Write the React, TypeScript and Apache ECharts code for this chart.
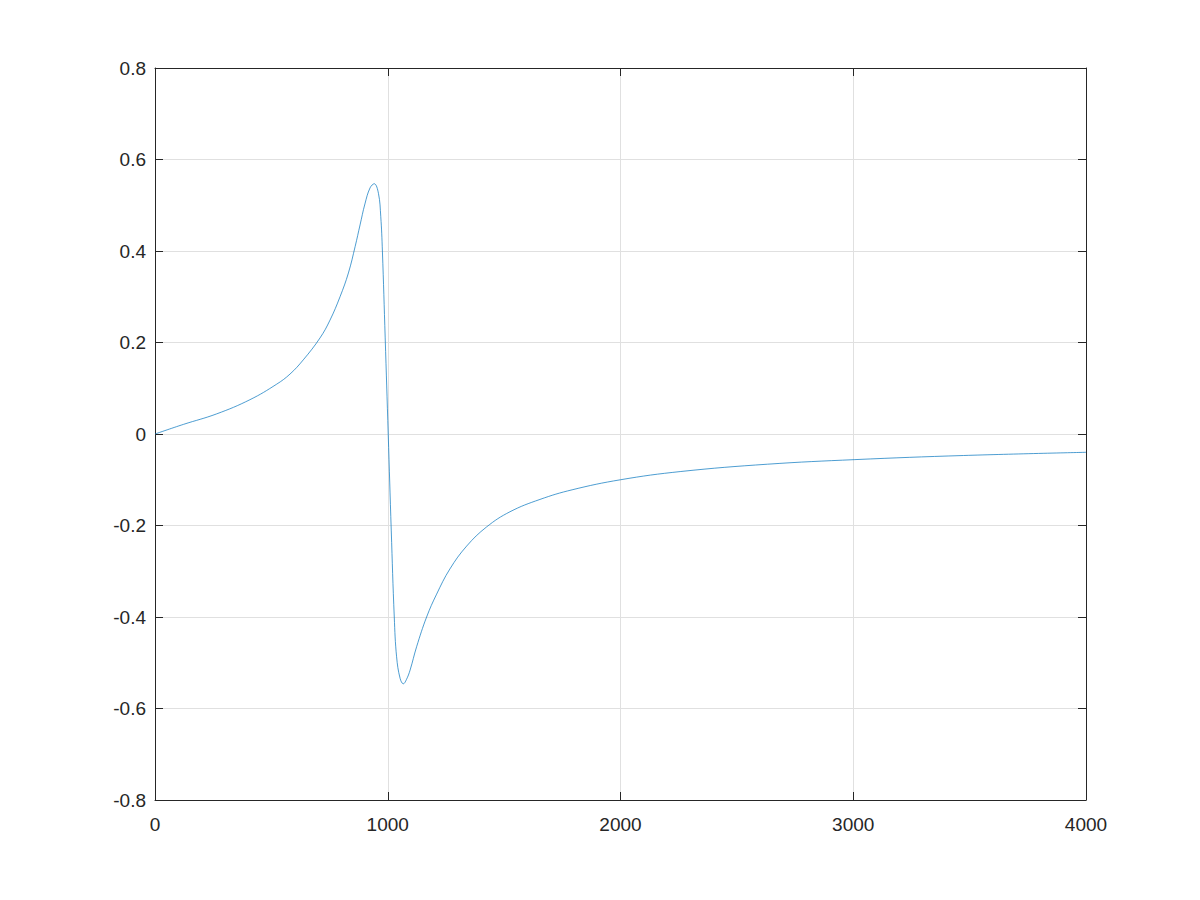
import React, { useEffect, useRef } from "react";
import * as echarts from "echarts";

const xValues = [
  0, 122, 265, 408, 523, 580, 637, 709, 752, 795, 831, 860, 881, 902, 924, 942,
  960, 970, 977, 989, 1002, 1015, 1028, 1038, 1053, 1067, 1080, 1096, 1124, 1167,
  1210, 1267, 1339, 1425, 1525, 1654, 1792, 2000, 2259, 2632, 3007, 3474, 4000,
];
const yValues = [
  0, 0.021, 0.044, 0.075, 0.109, 0.131, 0.162, 0.21, 0.249, 0.3, 0.352, 0.41,
  0.457, 0.503, 0.538, 0.547, 0.526, 0.475, 0.4, 0.21, 0.0, -0.21, -0.4, -0.487,
  -0.534, -0.546, -0.537, -0.516, -0.465, -0.4, -0.35, -0.295, -0.245, -0.203,
  -0.17, -0.143, -0.122, -0.1, -0.082, -0.066, -0.056, -0.047, -0.04,
];

const axisColor = "#262626";
const gridColor = "#e0e0e0";
const font = "Liberation Sans, Arial, Helvetica, sans-serif";

export default function App() {
  const ref = useRef<HTMLDivElement>(null);
  useEffect(() => {
    if (!ref.current) return;
    const chart = echarts.init(ref.current, null, { renderer: "svg" });
    const data = xValues.map((x, i) => [x, yValues[i]]);
    const common = {
      axisLine: { show: true, onZero: false, lineStyle: { color: axisColor, width: 1 } },
      axisTick: { show: true, inside: true, length: 8, lineStyle: { color: axisColor } },
    };
    chart.setOption({
      animation: false,
      backgroundColor: "#ffffff",
      grid: { left: 155, right: 114, top: 68, bottom: 100, containLabel: false },
      xAxis: [
        {
          type: "value",
          min: 0,
          max: 4000,
          interval: 1000,
          position: "bottom",
          ...common,
          axisLabel: {
            color: axisColor,
            fontSize: 19,
            fontFamily: font,
            margin: 15,
            formatter: (v: number) => String(v),
          },
          splitLine: { show: true, lineStyle: { color: gridColor, width: 1 } },
        },
        {
          type: "value",
          min: 0,
          max: 4000,
          interval: 1000,
          position: "top",
          ...common,
          axisLabel: { show: false },
          splitLine: { show: false },
        },
      ],
      yAxis: [
        {
          type: "value",
          min: -0.8,
          max: 0.8,
          interval: 0.2,
          position: "left",
          ...common,
          axisLabel: {
            color: axisColor,
            fontSize: 19,
            fontFamily: font,
            margin: 9,
            formatter: (v: number) => {
              const r = Math.round(v * 10) / 10;
              return r === 0 ? "0" : String(r);
            },
          },
          splitLine: { show: true, lineStyle: { color: gridColor, width: 1 } },
        },
        {
          type: "value",
          min: -0.8,
          max: 0.8,
          interval: 0.2,
          position: "right",
          ...common,
          axisLabel: { show: false },
          splitLine: { show: false },
        },
      ],
      series: [
        {
          type: "line",
          data,
          xAxisIndex: 0,
          yAxisIndex: 0,
          smooth: 0.4,
          showSymbol: false,
          symbol: "none",
          lineStyle: { color: "#0072bd", width: 0.7 },
        },
      ],
    });
    return () => chart.dispose();
  }, []);
  return (
    <div
      ref={ref}
      style={{ position: "fixed", left: 0, top: 0, width: 1200, height: 900, background: "#fff" }}
    />
  );
}
